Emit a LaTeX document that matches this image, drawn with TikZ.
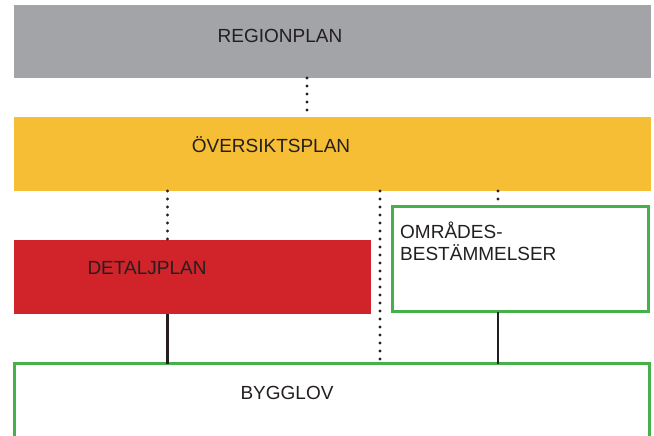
\documentclass[tikz,border=0pt]{standalone}
\usepackage{fontspec}
\setmainfont{Liberation Sans}
\definecolor{regiongray}{HTML}{A3A4A7}
\definecolor{planyellow}{HTML}{F6BE34}
\definecolor{planred}{HTML}{D1232A}
\definecolor{plangreen}{HTML}{46B04A}
\definecolor{txt}{HTML}{231F20}
\tikzset{
  fillbox/.style={rectangle, draw=none, inner sep=0pt, outer sep=0pt, anchor=north west},
  greenbox/.style={rectangle, draw=plangreen, line width=3pt, inner sep=0pt, outer sep=0pt, anchor=north west},
  lbl/.style={text=txt, inner sep=0pt, font=\fontsize{19pt}{22pt}\selectfont},
  dotline/.style={draw=txt, line width=3.1pt, line cap=round, dash pattern=on 0pt off 8pt},
  solidline/.style={draw=txt, line width=2.2pt},
}
\begin{document}
\begin{tikzpicture}[x=1pt,y=-1pt]
\clip (0,0) rectangle (654,436);
\fill[white] (0,0) rectangle (654,436);
% boxes
\node[fillbox, fill=regiongray, minimum width=637pt, minimum height=73pt] (region) at (14,5) {};
\node[fillbox, fill=planyellow, minimum width=637pt, minimum height=74pt] (oversikt) at (14,117) {};
\node[fillbox, fill=planred, minimum width=357pt, minimum height=74pt] (detalj) at (14,240) {};
\node[greenbox, minimum width=256pt, minimum height=105pt] (omrade) at (392.5,206.5) {};
\node[greenbox, minimum width=635pt, minimum height=90pt] (bygglov) at (14.5,363.5) {};
% labels
\node[lbl] (tregion) at (280,36) {REGIONPLAN};
\node[lbl] (toversikt) at (271,145) {ÖVERSIKTSPLAN};
\node[lbl] (tdetalj) at (147,268) {DETALJPLAN};
\node[lbl, anchor=north west, align=left] (tomrade) at (400,222) {OMRÅDES-\\BESTÄMMELSER};
\node[lbl] (tbygglov) at (287,393) {BYGGLOV};
% connector columns
\coordinate (c1) at (307,0);
\coordinate (c2) at (167.5,0);
\coordinate (c3) at (380,0);
\coordinate (c4) at (498,0);
% connectors
\draw[dotline] (region.south -| c1) -- (oversikt.north -| c1);
\draw[dotline] (oversikt.south -| c2) -- (detalj.north -| c2);
\draw[dotline] (oversikt.south -| c3) -- (bygglov.north -| c3);
\draw[dotline] (oversikt.south -| c4) -- (omrade.north -| c4);
\draw[solidline] (detalj.south -| c2) -- (bygglov.north -| c2);
\draw[solidline] (omrade.south -| c4) -- (bygglov.north -| c4);
\end{tikzpicture}
\end{document}
